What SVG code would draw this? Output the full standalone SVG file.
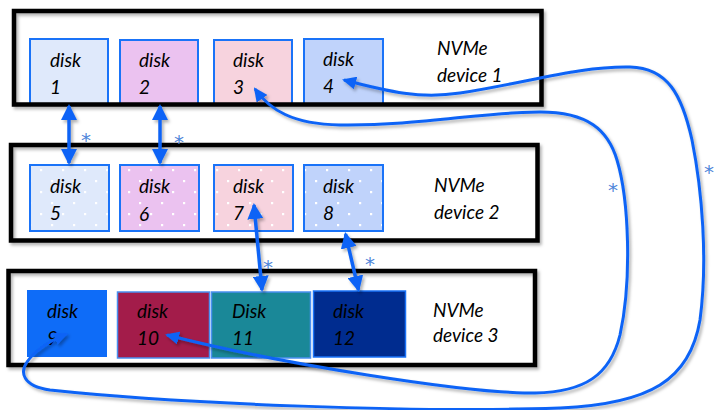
<svg xmlns="http://www.w3.org/2000/svg" width="716" height="410" viewBox="0 0 716 410">
  <defs>
    <style>
      .dev { fill: none; stroke: #000; stroke-width: 4.5; }
      .devbg { fill: #fff; }
      .disk { stroke: #1a73f8; stroke-width: 2; }
      .lbl { font-family: Lato, "Open Sans", sans-serif; font-style: italic; font-size: 19px; fill: #000; }
      .star { font-family: "DejaVu Sans", sans-serif; font-size: 20px; fill: #4f86da; text-anchor: middle; }
      .link { fill: none; stroke: #0d64f6; stroke-width: 3.5; }
      .loop { fill: none; stroke: #0d64f6; stroke-width: 3; }
    </style>
    <filter id="shadow" x="-5%" y="-5%" width="110%" height="115%">
      <feDropShadow dx="2" dy="2.5" stdDeviation="1.6" flood-color="#000" flood-opacity="0.3"/>
    </filter>
    <pattern id="dots" patternUnits="userSpaceOnUse" x="7" y="4" width="22" height="22">
      <rect x="0" y="0" width="2.2" height="2.2" fill="#fff"/>
      <rect x="11" y="11" width="2.2" height="2.2" fill="#fff"/>
    </pattern>
    <marker id="head" viewBox="0 0 16 16" refX="14" refY="8" markerWidth="16" markerHeight="16" markerUnits="userSpaceOnUse" orient="auto-start-reverse">
      <path d="M0,0 L16,8 L0,16 z" fill="#0d64f6"/>
    </marker>
    <marker id="head-s" viewBox="0 0 14 13" refX="12" refY="6.5" markerWidth="14" markerHeight="13" markerUnits="userSpaceOnUse" orient="auto-start-reverse">
      <path d="M0,0 L14,6.5 L0,13 z" fill="#0d64f6"/>
    </marker>
  </defs>

  <rect width="716" height="410" fill="#fff"/>

  <!-- NVMe device 1 -->
  <g id="device1">
    <rect class="devbg" x="14" y="11" width="527.5" height="93.5"/>
    <g id="disk1">
      <rect class="disk" x="30" y="39" width="78" height="66" fill="#dfe9fb"/>
      <text class="lbl" x="50" y="67">disk</text>
      <text class="lbl" x="50" y="94">1</text>
    </g>
    <g id="disk2">
      <rect class="disk" x="120" y="40" width="78" height="65" fill="#ebc2f0"/>
      <text class="lbl" x="139" y="67">disk</text>
      <text class="lbl" x="139" y="94">2</text>
    </g>
    <g id="disk3">
      <rect class="disk" x="214" y="40" width="78" height="65" fill="#f7d3de"/>
      <text class="lbl" x="233" y="67">disk</text>
      <text class="lbl" x="233" y="94">3</text>
    </g>
    <g id="disk4">
      <rect class="disk" x="304" y="39" width="79" height="66" fill="#c0d3fb"/>
      <text class="lbl" x="323" y="66">disk</text>
      <text class="lbl" x="323" y="93">4</text>
    </g>
    <text class="lbl" x="437" y="55">NVMe</text>
    <text class="lbl" x="437" y="82">device 1</text>
    <rect class="dev" x="14" y="11" width="527.5" height="93.5" filter="url(#shadow)"/>
  </g>

  <!-- NVMe device 2 -->
  <g id="device2">
    <rect class="devbg" x="11" y="145" width="526.5" height="95.5"/>
    <rect class="dev" x="11" y="145" width="526.5" height="95.5" filter="url(#shadow)"/>
    <g id="disk5">
      <rect class="disk" x="30" y="165" width="79" height="66" fill="#dfe9fb"/>
      <rect x="31" y="166" width="77" height="64" fill="url(#dots)"/>
      <text class="lbl" x="50" y="193">disk</text>
      <text class="lbl" x="50" y="220">5</text>
    </g>
    <g id="disk6">
      <rect class="disk" x="120" y="165" width="79" height="66" fill="#ebc2f0"/>
      <rect x="121" y="166" width="77" height="64" fill="url(#dots)"/>
      <text class="lbl" x="139" y="193">disk</text>
      <text class="lbl" x="139" y="221">6</text>
    </g>
    <g id="disk7">
      <rect class="disk" x="214" y="165" width="79" height="66" fill="#f7d3de"/>
      <rect x="215" y="166" width="77" height="64" fill="url(#dots)"/>
      <text class="lbl" x="233" y="193">disk</text>
      <text class="lbl" x="233" y="220">7</text>
    </g>
    <g id="disk8">
      <rect class="disk" x="304" y="165" width="79" height="66" fill="#c0d3fb"/>
      <rect x="305" y="166" width="77" height="64" fill="url(#dots)"/>
      <text class="lbl" x="323" y="193">disk</text>
      <text class="lbl" x="323" y="220">8</text>
    </g>
    <text class="lbl" x="434" y="192">NVMe</text>
    <text class="lbl" x="434" y="219">device 2</text>
  </g>

  <!-- NVMe device 3 -->
  <g id="device3">
    <rect class="devbg" x="8.5" y="271" width="526.5" height="94"/>
    <rect class="dev" x="8.5" y="271" width="526.5" height="94" filter="url(#shadow)"/>
    <g id="disk9">
      <rect x="27" y="290" width="80" height="67" fill="#0e6cf8"/>
      <text class="lbl" x="47" y="318">disk</text>
      <text class="lbl" x="47" y="345">9</text>
    </g>
    <g id="disk10">
      <rect x="117.5" y="292" width="92" height="66" fill="#a31c4a" stroke="#4a90f0" stroke-width="1.5"/>
      <text class="lbl" x="137" y="318">disk</text>
      <text class="lbl" x="137" y="345">10</text>
    </g>
    <g id="disk11">
      <rect x="211.5" y="292" width="99" height="66" fill="#1a8898" stroke="#4a90f0" stroke-width="1.5"/>
      <text class="lbl" x="232" y="318">Disk</text>
      <text class="lbl" x="232" y="345">11</text>
    </g>
    <g id="disk12">
      <rect x="313.5" y="291" width="92" height="66" fill="#002c8f" stroke="#1a73f8" stroke-width="1.5"/>
      <text class="lbl" x="333" y="318">disk</text>
      <text class="lbl" x="333" y="345">12</text>
    </g>
    <text class="lbl" x="433" y="317">NVMe</text>
    <text class="lbl" x="433" y="342">device 3</text>
  </g>

  <!-- connectors -->
  <g id="connectors" filter="url(#shadow)">
    <line class="link" x1="69" y1="106" x2="69" y2="163" marker-start="url(#head)" marker-end="url(#head)"/>
    <line class="link" x1="160" y1="106" x2="160" y2="163" marker-start="url(#head)" marker-end="url(#head)"/>
    <line class="link" x1="254" y1="205" x2="262" y2="290" marker-start="url(#head)" marker-end="url(#head)"/>
    <line class="link" x1="345.5" y1="234" x2="358.5" y2="290" marker-start="url(#head)" marker-end="url(#head)"/>
    <!-- disk 3 <-> disk 10, around the right side -->
    <path class="loop" marker-start="url(#head-s)" marker-end="url(#head-s)"
          d="M255,89 C270,110 292,124 340,125 C420,126 480,112 540,112 C588,112 608,130 617,160 C629,200 632,280 620,335 C610,375 585,392 535,393 C470,394 280,364 167,335"/>
    <!-- disk 4 <-> disk 9, outer loop -->
    <path class="loop" marker-start="url(#head-s)" marker-end="url(#head-s)"
          d="M344,80 C390,92 420,99 460,93 C530,82 580,66 630,67 C668,68 682,95 692,140 C702,190 708,260 700,320 C690,380 650,404 560,408 C420,413 180,404 50,390 C22,386 20,372 27,362 C35,350 50,341 66,334"/>
  </g>

  <!-- replication markers -->
  <g id="markers">
    <text class="star" x="86" y="147">*</text>
    <text class="star" x="179" y="149">*</text>
    <text class="star" x="268" y="274">*</text>
    <text class="star" x="370" y="271">*</text>
    <text class="star" x="613" y="197">*</text>
    <text class="star" x="709" y="179">*</text>
  </g>
</svg>
